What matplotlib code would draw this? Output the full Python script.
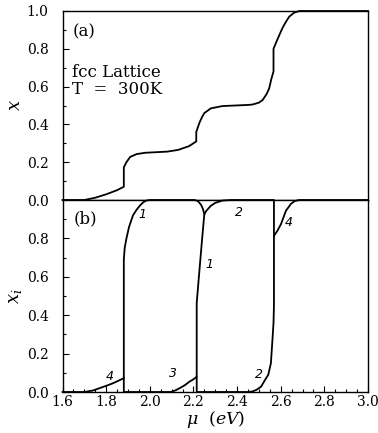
import matplotlib
matplotlib.use("Agg")
import matplotlib.pyplot as plt
from matplotlib.ticker import MultipleLocator, FixedLocator

plt.rcParams['font.family'] = ['DejaVu Serif']
plt.rcParams['mathtext.fontset'] = 'dejavuserif'

# ---- data: panel (a) total concentration ----
mu_total = [1.60, 1.70, 1.75, 1.80, 1.85, 1.881, 1.881, 1.893, 1.91, 1.94, 1.98, 2.08,
            2.13, 2.18, 2.213, 2.213, 2.228, 2.24, 2.25, 2.28, 2.333, 2.45, 2.47, 2.50,
            2.517, 2.535, 2.547, 2.557, 2.567, 2.567, 2.585, 2.608, 2.625, 2.639, 2.66,
            2.685, 3.00]
x_total = [0.0, 0.0, 0.012, 0.03, 0.052, 0.070, 0.173, 0.20, 0.228, 0.243, 0.25, 0.256,
           0.265, 0.285, 0.31, 0.36, 0.41, 0.44, 0.46, 0.485, 0.497, 0.503, 0.505, 0.515,
           0.529, 0.56, 0.59, 0.64, 0.68, 0.80, 0.85, 0.91, 0.945, 0.97, 0.99,
           1.0, 1.0]

# ---- data: panel (b) sublattice concentrations ----
mu_sub_a = [1.60, 1.70, 1.74, 1.77, 1.80, 1.83, 1.855, 1.881, 1.881, 1.885, 1.893, 1.905,
            1.923, 1.94, 1.954, 1.97, 1.984, 2.00, 2.205, 2.22, 2.235, 2.243, 2.25]
x_sub_a = [0.0, 0.0, 0.008, 0.02, 0.032, 0.045, 0.058, 0.072, 0.69, 0.75, 0.80, 0.86,
           0.92, 0.95, 0.97, 0.988, 0.997, 1.0, 1.0, 0.995, 0.975, 0.955, 0.927]

mu_sub_b = [1.881, 1.881, 2.098, 2.12, 2.137, 2.16, 2.182, 2.20, 2.215, 2.215, 2.228,
            2.24, 2.25, 2.26, 2.28, 2.30, 2.333, 2.37, 2.569, 2.569]
x_sub_b = [0.072, 0.0, 0.0, 0.01, 0.02, 0.035, 0.054, 0.066, 0.08, 0.464, 0.64,
           0.80, 0.927, 0.945, 0.97, 0.985, 0.997, 1.0, 1.0, 0.813]

mu_sub_c = [2.215, 2.215, 2.45, 2.471, 2.49, 2.51, 2.532, 2.543, 2.555, 2.562, 2.567,
            2.569, 2.569, 2.585, 2.601, 2.624, 2.647, 2.665, 2.685, 3.00]
x_sub_c = [0.08, 0.0, 0.0, 0.003, 0.012, 0.028, 0.07, 0.09, 0.15, 0.27, 0.36,
           0.45, 0.813, 0.84, 0.874, 0.944, 0.98, 0.995, 1.0, 1.0]

# multiplicity labels: (text, mu, x)
label_text = ["4", "1", "3", "1", "2", "2", "4"]
label_mu = [1.817, 1.967, 2.106, 2.274, 2.41, 2.502, 2.638]
label_x = [0.08, 0.927, 0.098, 0.665, 0.937, 0.089, 0.883]

xticks = [1.6, 1.8, 2.0, 2.2, 2.4, 2.6, 2.8, 3.0]

W, H = 378, 433
fig = plt.figure(figsize=(W / 100, H / 100), dpi=100)
left, right = 62.5 / W, 368 / W
ax1 = fig.add_axes([left, (H - 200) / H, right - left, (200 - 11) / H])
ax2 = fig.add_axes([left, (H - 392) / H, right - left, (392 - 200) / H])

lw = 1.3
ax1.plot(mu_total, x_total, color='black', lw=lw, clip_on=False)
for m, v in [(mu_sub_a, x_sub_a), (mu_sub_b, x_sub_b), (mu_sub_c, x_sub_c)]:
    ax2.plot(m, v, color='black', lw=lw, clip_on=False)

for ax in (ax1, ax2):
    ax.set_xlim(1.6, 3.0)
    ax.set_ylim(0, 1.0)
    ax.xaxis.set_major_locator(FixedLocator(xticks))
    ax.xaxis.set_minor_locator(MultipleLocator(0.05))
    ax.yaxis.set_major_locator(MultipleLocator(0.2))
    ax.yaxis.set_minor_locator(MultipleLocator(0.1))
    ax.tick_params(which='both', direction='in', top=False, right=False,
                   labelsize=10)
    ax.tick_params(axis='y', which='both', pad=10)
    ax.tick_params(axis='x', which='both', pad=2.5)
    ax.tick_params(which='major', length=4.5, width=0.8)
    ax.tick_params(which='minor', length=2.5, width=0.8)
    for s in ax.spines.values():
        s.set_linewidth(1.0)

ax1.tick_params(axis='x', which='both', bottom=False, labelbottom=False)
ax1.set_yticks([0.0, 0.2, 0.4, 0.6, 0.8, 1.0])
ax1.set_yticklabels(['0.0', '0.2', '0.4', '0.6', '0.8', '1.0'])
ax2.set_yticks([0.0, 0.2, 0.4, 0.6, 0.8])
ax2.set_yticklabels(['0.0', '0.2', '0.4', '0.6', '0.8'])
ax2.set_xticklabels([f"{t:.1f}" for t in xticks])

ax1.set_ylabel(r'$x$', fontsize=13, labelpad=2)
ax2.set_ylabel(r'$x_i$', fontsize=13, labelpad=2)
ax2.set_xlabel(r'$\mu\ \ (eV)$', fontsize=12.5, labelpad=0)

ax1.text(1.645, 0.89, '(a)', fontsize=12, va='center', ha='left')
ax1.text(1.645, 0.675, 'fcc Lattice', fontsize=12, va='center', ha='left')
ax1.text(1.645, 0.585, 'T  =  300K', fontsize=12, va='center', ha='left')
ax2.text(1.65, 0.90, '(b)', fontsize=12, va='center', ha='left')

for t, m, v in zip(label_text, label_mu, label_x):
    ax2.text(m, v, t, fontsize=9, style='italic', family='DejaVu Sans',
             ha='center', va='center')

fig.savefig('out.png', dpi=100)
